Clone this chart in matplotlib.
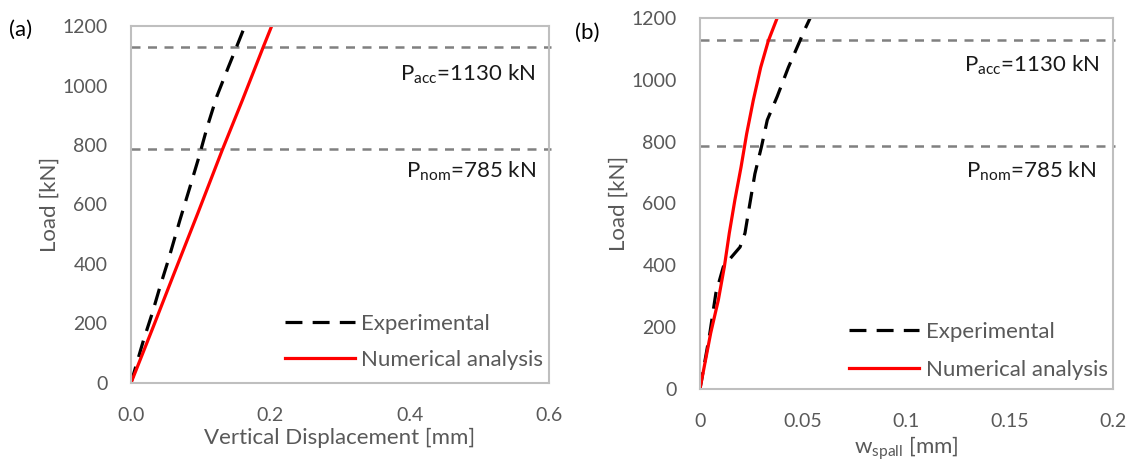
import matplotlib
matplotlib.use("Agg")
import matplotlib.pyplot as plt
from matplotlib.ticker import FuncFormatter

plt.rcParams['font.family'] = ['Lato', 'DejaVu Sans']
plt.rcParams['mathtext.fontset'] = 'custom'
plt.rcParams['mathtext.rm'] = 'Lato'

# panel (a): vertical displacement [mm] vs load [kN]
exp_a_x = [0, 0.005, 0.018, 0.0306, 0.0416, 0.0536, 0.0703, 0.0847, 0.0976, 0.1095, 0.123, 0.140, 0.1516, 0.1635]
exp_a_y = [0, 40, 144, 235, 323, 413, 548, 659, 760, 861, 962, 1063, 1130, 1200]
num_a_x = [0, 0.032, 0.060, 0.096, 0.131, 0.160, 0.190, 0.202]
num_a_y = [0, 189, 357, 571, 783, 951, 1130, 1200]

# panel (b): w_spall [mm] vs load [kN]
exp_b_x = [0, 0.0048, 0.0077, 0.0113, 0.0153, 0.0194, 0.0218, 0.0239, 0.0266, 0.0299,
           0.0326, 0.0374, 0.0428, 0.0484, 0.0504, 0.0536]
exp_b_y = [0, 181, 310, 395, 427, 459, 504, 589, 696, 787, 870, 946, 1040, 1126, 1158, 1203]
num_b_x = [0, 0.0052, 0.0089, 0.0118, 0.0142, 0.0169, 0.0199, 0.0226, 0.0258, 0.0294, 0.0331, 0.0374]
num_b_y = [0, 181, 288, 395, 504, 611, 718, 825, 933, 1040, 1126, 1200]

p_acc = 1130
p_nom = 785

fs_tick = 14
fs_txt = 16
tick_col = '#595959'
frame_col = '#bfbfbf'

fig = plt.figure(figsize=(11.33, 4.61), dpi=100)
ax_a = fig.add_axes([0.1156, 0.1692, 0.3689, 0.7744])
ax_b = fig.add_axes([0.6178, 0.1562, 0.3645, 0.8048])

panels = [
    dict(ax=ax_a, ex=exp_a_x, ey=exp_a_y, nx=num_a_x, ny=num_a_y, xmax=0.6,
         xt=[0, 0.2, 0.4, 0.6], fmt=lambda v, p: f"{v:.1f}",
         xlab="Vertical Displacement [mm]", tag="(a)", tag_xy=(-0.292, 1.017),
         leg=(0.368, 0.193), lsp=0.7, acc_x=0.968, nom_x=0.968, acc_off=-54, nom_off=-35),
    dict(ax=ax_b, ex=exp_b_x, ey=exp_b_y, nx=num_b_x, ny=num_b_y, xmax=0.2,
         xt=[0, 0.05, 0.1, 0.15, 0.2], fmt=lambda v, p: f"{v:g}",
         xlab=r"w$_\mathregular{spall}$ [mm]", tag="(b)", tag_xy=(-0.303, 0.987),
         leg=(0.361, 0.181), lsp=0.8, acc_x=0.966, nom_x=0.959, acc_off=-43, nom_off=-44),
]

for d in panels:
    ax = d['ax']
    ax.plot(d['ex'], d['ey'], color='black', lw=2.3, ls=(0, (5.3, 3.2)), label='Experimental')
    ax.plot(d['nx'], d['ny'], color='#ff0000', lw=2.3, label='Numerical analysis')
    for p in (p_acc, p_nom):
        ax.plot([0, d['xmax'] * 1.006], [p, p], color='#808080', lw=1.8,
                ls=(0, (3.6, 3.0)), clip_on=False, zorder=1)

    ax.set_xlim(0, d['xmax'])
    ax.set_ylim(0, 1200)
    ax.set_xticks(d['xt'])
    ax.set_yticks(range(0, 1201, 200))
    ax.xaxis.set_major_formatter(FuncFormatter(d['fmt']))
    ax.tick_params(length=0, labelsize=fs_tick, labelcolor=tick_col)
    ax.tick_params(axis='y', pad=17)
    ax.tick_params(axis='x', pad=17)
    for s in ax.spines.values():
        s.set_color(frame_col)
        s.set_linewidth(1.5)

    ax.set_xlabel(d['xlab'], fontsize=fs_txt, color=tick_col, labelpad=3)
    ax.set_ylabel("Load [kN]", fontsize=fs_txt, color=tick_col, labelpad=2)

    ax.text(d['acc_x'], p_acc + d['acc_off'], r"P$_\mathregular{acc}$=1130 kN",
            transform=ax.get_yaxis_transform(), ha='right', va='top',
            fontsize=fs_txt, color='#1a1a1a')
    ax.text(d['nom_x'], p_nom + d['nom_off'], r"P$_\mathregular{nom}$=785 kN",
            transform=ax.get_yaxis_transform(), ha='right', va='top',
            fontsize=fs_txt, color='#1a1a1a')

    ax.text(d['tag_xy'][0], d['tag_xy'][1], d['tag'], transform=ax.transAxes,
            fontsize=fs_txt, color='black', ha='left', va='top')

    leg = ax.legend(loc='upper left', bbox_to_anchor=d['leg'], frameon=False,
                    fontsize=fs_txt, handlelength=3.15, handletextpad=0.3,
                    labelspacing=d['lsp'], borderpad=0, borderaxespad=0)
    for t in leg.get_texts():
        t.set_color(tick_col)

fig.savefig("out.png", dpi=100)
